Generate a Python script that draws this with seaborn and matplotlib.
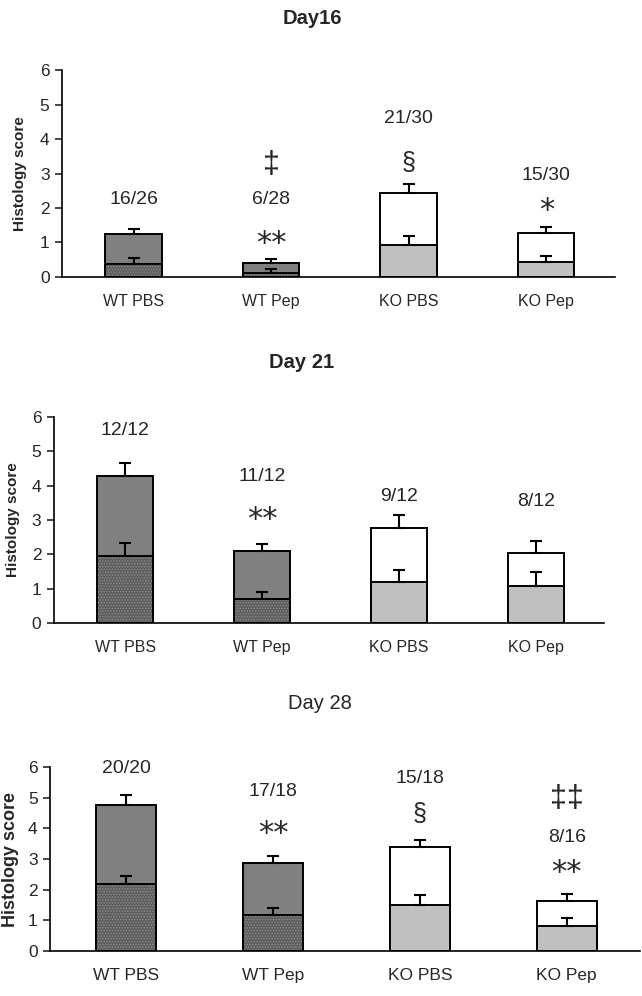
import pandas as pd
import seaborn as sns
import matplotlib.pyplot as plt
from matplotlib.patches import Rectangle

groups = ["WT PBS", "WT Pep", "KO PBS", "KO Pep"]

# total score (upper bar) and lower part of each stacked bar, with SEM
d16_total = [1.24, 0.40, 2.44, 1.28]
d16_total_err = [0.16, 0.12, 0.27, 0.16]
d16_lower = [0.39, 0.12, 0.92, 0.43]
d16_lower_err = [0.17, 0.11, 0.28, 0.17]

d21_total = [4.28, 2.10, 2.78, 2.05]
d21_total_err = [0.38, 0.19, 0.36, 0.33]
d21_lower = [1.94, 0.70, 1.20, 1.08]
d21_lower_err = [0.39, 0.19, 0.34, 0.40]

d28_total = [4.76, 2.88, 3.39, 1.64]
d28_total_err = [0.34, 0.22, 0.24, 0.23]
d28_lower = [2.17, 1.17, 1.51, 0.81]
d28_lower_err = [0.29, 0.22, 0.30, 0.25]

# incidence labels and significance marks
d16_ratio = ["16/26", "6/28", "21/30", "15/30"]
d16_ratio_y = [2.25, 2.25, 4.6, 2.93]
d16_sig = ["", "**", "§", "*"]
d16_sig_y = [0, 1.07, 3.3, 2.0]
d16_extra = ["", "‡", "", ""]
d16_extra_y = [0, 3.25, 0, 0]

d21_ratio = ["12/12", "11/12", "9/12", "8/12"]
d21_ratio_y = [5.61, 4.26, 3.68, 3.55]
d21_sig = ["", "**", "", ""]
d21_sig_y = [0, 3.1, 0, 0]
d21_extra = ["", "", "", ""]
d21_extra_y = [0, 0, 0, 0]

d28_ratio = ["20/20", "17/18", "15/18", "8/16"]
d28_ratio_y = [5.95, 5.21, 5.61, 3.70]
d28_sig = ["", "**", "§", "**"]
d28_sig_y = [0, 3.93, 4.48, 2.67]
d28_extra = ["", "", "", "‡‡"]
d28_extra_y = [0, 0, 0, 4.96]

upper_colors = ["#808080", "#808080", "#ffffff", "#ffffff"]
lower_colors = ["#5e5e5e", "#5e5e5e", "#c0c0c0", "#c0c0c0"]

sns.set_style("ticks")
plt.rcParams["font.family"] = ["Liberation Sans Narrow", "Liberation Sans", "DejaVu Sans"]
plt.rcParams["hatch.linewidth"] = 0.7

fig = plt.figure(figsize=(6.42, 9.96), dpi=100)

# rect, title pos, ylabel size, ylabel offset (axes fraction)
panels = [
    ("Day16", "bold", [0.0966, 0.7219, 0.8614, 0.2078], d16_total, d16_total_err, d16_lower, d16_lower_err,
     d16_ratio, d16_ratio_y, d16_sig, d16_sig_y, d16_extra, d16_extra_y, (0.487, 0.981), 11, 0.063),
    ("Day 21", "bold", [0.084, 0.3745, 0.857, 0.2068], d21_total, d21_total_err, d21_lower, d21_lower_err,
     d21_ratio, d21_ratio_y, d21_sig, d21_sig_y, d21_extra, d21_extra_y, (0.47, 0.636), 11, 0.062),
    ("Day 28", "normal", [0.078, 0.0452, 0.919, 0.1847], d28_total, d28_total_err, d28_lower, d28_lower_err,
     d28_ratio, d28_ratio_y, d28_sig, d28_sig_y, d28_extra, d28_extra_y, (0.498, 0.294), 13, 0.052),
]

for (title, tw, rect, total, total_err, lower, lower_err,
     ratio, ratio_y, sig, sig_y, extra, extra_y, title_xy, ylab_fs, ylab_x) in panels:
    ax = fig.add_axes(rect)
    df = pd.DataFrame({"group": groups, "total": total, "lower": lower})
    sns.barplot(data=df, x="group", y="total", hue="group", palette=upper_colors, legend=False,
                width=0.41, edgecolor="black", linewidth=1.4, ax=ax)
    n_up = len(ax.patches)
    sns.barplot(data=df, x="group", y="lower", hue="group", palette=lower_colors, legend=False,
                width=0.41, edgecolor="black", linewidth=1.4, ax=ax)
    # stipple texture on the WT lower bars, keep black outline on top
    for p in ax.patches[n_up:n_up + 2]:
        p.set_hatch("......")
        p.set_edgecolor("#8c8c8c")
        ax.add_patch(Rectangle(p.get_xy(), p.get_width(), p.get_height(), fill=False,
                               edgecolor="black", linewidth=1.4, zorder=p.get_zorder() + 0.1))
    xs = list(range(len(groups)))
    ax.errorbar(xs, total, yerr=[[0] * 4, total_err], fmt="none", ecolor="black",
                elinewidth=1.5, capsize=4.5, capthick=1.5, zorder=4)
    ax.errorbar(xs, lower, yerr=[[0] * 4, lower_err], fmt="none", ecolor="black",
                elinewidth=1.5, capsize=4.5, capthick=1.5, zorder=4)

    for i in xs:
        ax.text(i, ratio_y[i], ratio[i], ha="center", va="center", fontsize=14)
        if sig[i]:
            if "*" in sig[i]:
                ax.text(i, sig_y[i], sig[i], ha="center", va="center_baseline", fontsize=22,
                        family=["DejaVu Sans"])
            else:
                ax.text(i, sig_y[i], sig[i], ha="center", va="center", fontsize=18)
        if extra[i]:
            ax.text(i, extra_y[i], extra[i], ha="center", va="center", fontsize=22)

    ax.set_xlim(-0.52, 3.5)
    ax.set_ylim(0, 6)
    ax.set_yticks(range(7))
    ax.set_xlabel("")
    ax.set_ylabel("Histology score", fontsize=ylab_fs, fontweight="bold",
                  family=["Liberation Sans", "DejaVu Sans"])
    ax.yaxis.set_label_coords(-ylab_x, 0.5)
    ax.tick_params(axis="y", length=5, width=1.2, labelsize=12.5, pad=4)
    ax.tick_params(axis="x", length=0, labelsize=11.5 if title != "Day 28" else 12.5, pad=12)
    for s in ["top", "right"]:
        ax.spines[s].set_visible(False)
    for s in ["left", "bottom"]:
        ax.spines[s].set_linewidth(1.2)
        ax.spines[s].set_color("black")
    fig.text(title_xy[0], title_xy[1], title, ha="center", va="center", fontsize=14.5, fontweight=tw)

fig.savefig("out.png", dpi=100, facecolor="white")
